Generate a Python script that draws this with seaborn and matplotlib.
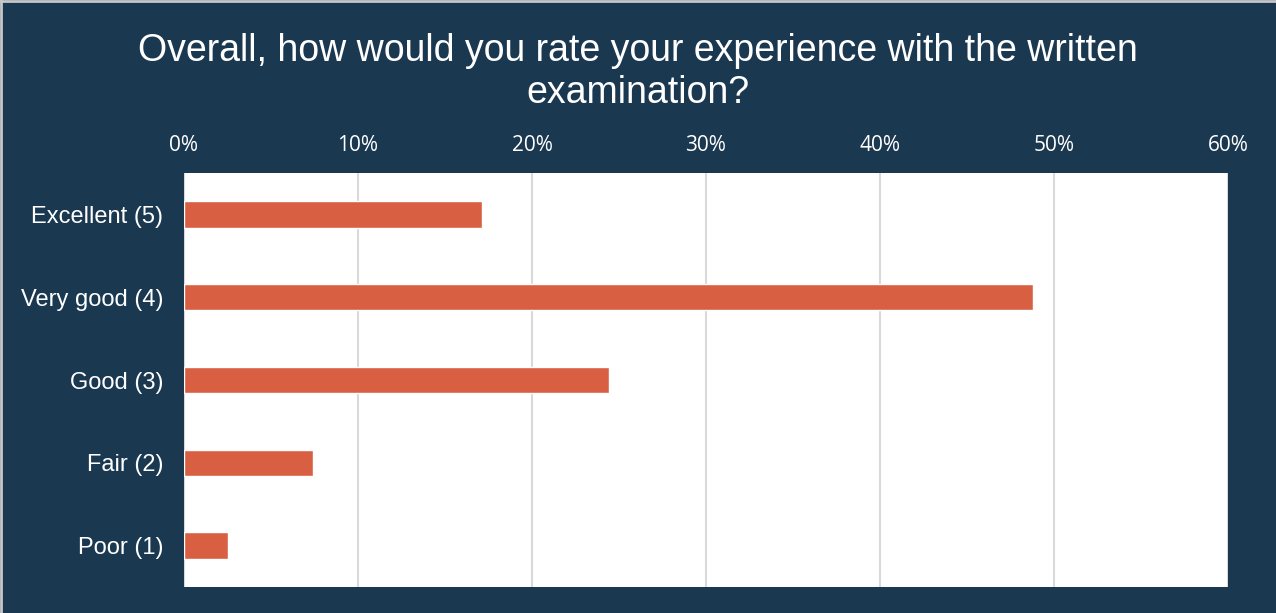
import matplotlib
matplotlib.use("Agg")
import matplotlib.pyplot as plt
import seaborn as sns
import pandas as pd
from matplotlib.ticker import PercentFormatter
from matplotlib.lines import Line2D

# Survey responses (share of respondents, %)
categories = ["Excellent (5)", "Very good (4)", "Good (3)", "Fair (2)", "Poor (1)"]
shares = [17.1, 48.8, 24.4, 7.4, 2.5]
x_ticks = [0, 10, 20, 30, 40, 50, 60]

title = "Overall, how would you rate your experience with the written\nexamination?"

navy = "#1B3851"
bar_color = "#D95F43"
grid_color = "#D9D9D9"

sns.set_theme(style="white")
plt.rcParams["font.family"] = ["Liberation Sans", "DejaVu Sans"]

df = pd.DataFrame({"category": categories, "share": shares})

fig = plt.figure(figsize=(12.76, 6.13), dpi=100, facecolor=navy)
ax = fig.add_axes([184 / 1276, 1 - 587 / 613, (1228 - 184) / 1276, (587 - 173) / 613])
ax.set_facecolor("white")

sns.barplot(data=df, x="share", y="category", color=bar_color, width=0.32,
            saturation=1, ax=ax, zorder=3)

ax.set_xlim(0, 60)
ax.set_xticks(x_ticks)
ax.xaxis.set_major_formatter(PercentFormatter(decimals=0))
ax.xaxis.tick_top()
ax.tick_params(axis="x", length=0, pad=12, labelsize=15, colors="white")
ax.tick_params(axis="y", length=0, pad=15, labelsize=17, colors="white")
for lbl in ax.get_xticklabels():
    lbl.set_fontfamily(["Open Sans", "DejaVu Sans"])

ax.grid(axis="x", color=grid_color, linewidth=1.5, zorder=0)
ax.grid(axis="y", visible=False)
ax.set_xlabel("")
ax.set_ylabel("")
for side, spine in ax.spines.items():
    spine.set_visible(False)

fig.text(0.5, 1 - 72 / 613, title, ha="center", va="center", color="white",
         fontsize=27, linespacing=1.2)

# thin light frame along the top and left edges of the canvas
fig.add_artist(Line2D([0.0008, 0.0008], [0, 1], transform=fig.transFigure,
                      color="#C8C8C8", linewidth=2))
fig.add_artist(Line2D([0, 1], [0.9985, 0.9985], transform=fig.transFigure,
                      color="#C8C8C8", linewidth=2))

fig.savefig("out.png", dpi=100, facecolor=navy)
